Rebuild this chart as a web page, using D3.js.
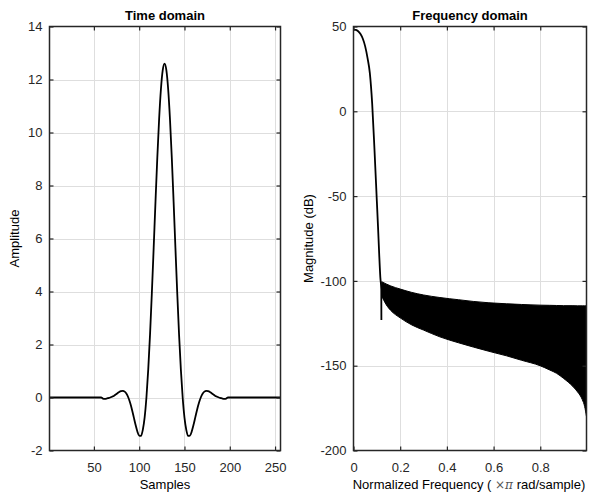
<!DOCTYPE html>
<html>
<head>
<meta charset="utf-8">
<script src="https://cdn.jsdelivr.net/npm/d3@7"></script>
<style>
  body { margin: 0; background: #fff; }
  svg { display: block; font-family: "Liberation Sans", Arial, sans-serif; }
</style>
</head>
<body>
<script>
// Time domain: sample index vs amplitude
const samples = [1,
  58, 60, 62, 64, 66, 68, 70, 72, 74, 76, 78, 80, 82, 84, 86, 88, 90, 92,
  94, 96, 98, 100, 102, 104, 106, 108, 110, 112, 114, 116, 118, 120, 122, 124, 126,
  128,
  130, 132, 134, 136, 138, 140, 142, 144, 146, 148, 150, 152, 154, 156, 158, 160, 162,
  164, 166, 168, 170, 172, 174, 176, 178, 180, 182, 184, 186, 188, 190, 192, 194, 196, 198,
  256];
const amplitude = [0,
  0.00, -0.04, -0.05, -0.04, -0.02, 0.00, 0.03, 0.06, 0.11, 0.16, 0.21, 0.24, 0.25, 0.22, 0.14, 0.00, -0.20, -0.45,
  -0.74, -1.03, -1.28, -1.44, -1.45, -1.22, -0.76, 0.00, 1.06, 2.39, 3.95, 5.65, 7.39, 9.05, 10.50, 11.63, 12.35,
  12.60,
  12.35, 11.63, 10.50, 9.05, 7.39, 5.65, 3.95, 2.39, 1.06, 0.00, -0.76, -1.22, -1.45, -1.44, -1.28, -1.03, -0.74,
  -0.45, -0.20, 0.00, 0.14, 0.22, 0.25, 0.24, 0.21, 0.16, 0.11, 0.06, 0.03, 0.00, -0.02, -0.04, -0.05, -0.04, 0.00,
  0];

// Frequency domain: passband line
const passFreq = [0, 0.01, 0.02, 0.03, 0.04, 0.05, 0.06, 0.07, 0.08, 0.09, 0.10, 0.105, 0.11, 0.115, 0.119, 0.1195];
const passMag  = [48.2, 48.0, 47.2, 45.6, 42.8, 38.3, 31.5, 22.5, 4.5, -23, -53, -68, -84, -98, -105, -123];

// Frequency domain: stopband ripple shown as its envelope
const bandFreq  = [0.121, 0.14, 0.16, 0.2, 0.25, 0.3, 0.37, 0.45, 0.513, 0.58, 0.656, 0.72, 0.799, 0.84, 0.87, 0.9, 0.94, 0.96, 0.98, 0.99, 0.998];
const bandUpper = [-100.5, -101.8, -103, -104.8, -106.8, -108.3, -109.8, -111.1, -112.1, -112.9, -113.5, -113.9, -114.3, -114.4, -114.5, -114.6, -114.6, -114.7, -114.7, -114.7, -114.7];
const bandLower = [-109, -114, -117.5, -121.8, -126, -129, -133, -136.5, -139, -141.5, -144.2, -146.8, -150, -152.5, -154.5, -157.5, -162.3, -165.5, -170, -174, -180];

// Tick values
const timeXTicks = [50, 100, 150, 200, 250];
const timeYTicks = [-2, 0, 2, 4, 6, 8, 10, 12, 14];
const freqXTicks = [0, 0.2, 0.4, 0.6, 0.8];
const freqYTicks = [-200, -150, -100, -50, 0, 50];

const W = 590, H = 495;
const plotTop = 26.5, plotBottom = 450.5;
const ink = "#262626";
const gridColor = "#dedede";

const svg = d3.select("body").append("svg")
  .attr("width", W)
  .attr("height", H);

function drawPanel(opts) {
  const x = d3.scaleLinear().domain(opts.xDomain).range([opts.left, opts.right]);
  const y = d3.scaleLinear().domain(opts.yDomain).range([plotBottom, plotTop]);
  const g = svg.append("g");

  // grid
  g.append("g").selectAll("line")
    .data(opts.xTicks.filter(d => x(d) > opts.left + 1))
    .enter().append("line")
    .attr("x1", d => Math.round(x(d)) + 0.5).attr("x2", d => Math.round(x(d)) + 0.5)
    .attr("y1", plotTop).attr("y2", plotBottom)
    .attr("stroke", gridColor);
  g.append("g").selectAll("line")
    .data(opts.yTicks.filter(d => y(d) > plotTop + 1 && y(d) < plotBottom - 1))
    .enter().append("line")
    .attr("y1", d => Math.round(y(d)) + 0.5).attr("y2", d => Math.round(y(d)) + 0.5)
    .attr("x1", opts.left).attr("x2", opts.right)
    .attr("stroke", gridColor);

  opts.draw(g, x, y);

  // axes with inward ticks
  const bx = g.append("g").attr("transform", `translate(0,${plotBottom})`)
    .call(d3.axisBottom(x).tickValues(opts.xTicks).tickSizeInner(-4).tickSizeOuter(0).tickPadding(12).tickFormat(d => d));
  const lx = g.append("g").attr("transform", `translate(${opts.left},0)`)
    .call(d3.axisLeft(y).tickValues(opts.yTicks).tickSizeInner(-4).tickSizeOuter(0).tickPadding(7).tickFormat(d => d));
  const tx = g.append("g").attr("transform", `translate(0,${plotTop})`)
    .call(d3.axisTop(x).tickValues(opts.xTicks).tickSizeInner(-4).tickSizeOuter(0).tickFormat(""));
  const rx = g.append("g").attr("transform", `translate(${opts.right},0)`)
    .call(d3.axisRight(y).tickValues(opts.yTicks).tickSizeInner(-4).tickSizeOuter(0).tickFormat(""));

  [bx, lx, tx, rx].forEach(a => {
    a.select(".domain").remove();
    a.selectAll("line").attr("stroke", ink).attr("stroke-width", 1.2);
    a.selectAll("text").attr("fill", ink).attr("font-size", 13)
      .attr("font-family", "'Liberation Sans', Arial, sans-serif");
  });

  // box
  g.append("rect")
    .attr("x", opts.left).attr("y", plotTop)
    .attr("width", opts.right - opts.left).attr("height", plotBottom - plotTop)
    .attr("fill", "none").attr("stroke", ink).attr("stroke-width", 1.5);

  // title
  g.append("text")
    .attr("x", (opts.left + opts.right) / 2).attr("y", 20)
    .attr("text-anchor", "middle")
    .attr("font-size", 13).attr("font-weight", "bold")
    .attr("fill", "#000")
    .text(opts.title);

  // y label
  g.append("text")
    .attr("transform", `translate(${opts.yLabelX},${(plotTop + plotBottom) / 2}) rotate(-90)`)
    .attr("text-anchor", "middle")
    .attr("font-size", 13).attr("fill", "#000")
    .text(opts.yLabel);

  return g;
}

// Left panel
drawPanel({
  left: 49.5, right: 280.5,
  xDomain: [1, 256], yDomain: [-2, 14],
  xTicks: timeXTicks, yTicks: timeYTicks,
  title: "Time domain", yLabel: "Amplitude", yLabelX: 19,
  draw: (g, x, y) => {
    const line = d3.line()
      .x((d, i) => x(samples[i]))
      .y(d => y(d))
      .curve(d3.curveMonotoneX);
    g.append("path")
      .datum(amplitude)
      .attr("d", line)
      .attr("fill", "none")
      .attr("stroke", "#000")
      .attr("stroke-width", 1.8);
  }
});

svg.append("text")
  .attr("x", 165).attr("y", 489)
  .attr("text-anchor", "middle")
  .attr("font-size", 13).attr("fill", "#000")
  .text("Samples");

// Right panel
drawPanel({
  left: 353.5, right: 586.5,
  xDomain: [0, 511 / 512], yDomain: [-200, 50],
  xTicks: freqXTicks, yTicks: freqYTicks,
  title: "Frequency domain", yLabel: "Magnitude (dB)", yLabelX: 313,
  draw: (g, x, y) => {
    const area = d3.area()
      .x((d, i) => x(bandFreq[i]))
      .y0((d, i) => y(bandLower[i]))
      .y1(d => y(d))
      .curve(d3.curveMonotoneX);
    g.append("path")
      .datum(bandUpper)
      .attr("d", area)
      .attr("fill", "#000")
      .attr("stroke", "#000")
      .attr("stroke-width", 1);

    const line = d3.line()
      .x((d, i) => x(passFreq[i]))
      .y(d => y(d))
      .curve(d3.curveMonotoneX);
    g.append("path")
      .datum(passMag)
      .attr("d", line)
      .attr("fill", "none")
      .attr("stroke", "#000")
      .attr("stroke-width", 1.8);
  }
});

const fl = svg.append("text")
  .attr("x", 469).attr("y", 489)
  .attr("text-anchor", "middle")
  .attr("font-size", 13).attr("fill", "#000");
fl.append("tspan").text("Normalized Frequency  (  ");
fl.append("tspan").attr("fill", "#555").attr("font-size", 12)
  .attr("font-family", "'DejaVu Serif', serif").attr("font-style", "italic").text("×π");
fl.append("tspan").text(" rad/sample)");
</script>
</body>
</html>
